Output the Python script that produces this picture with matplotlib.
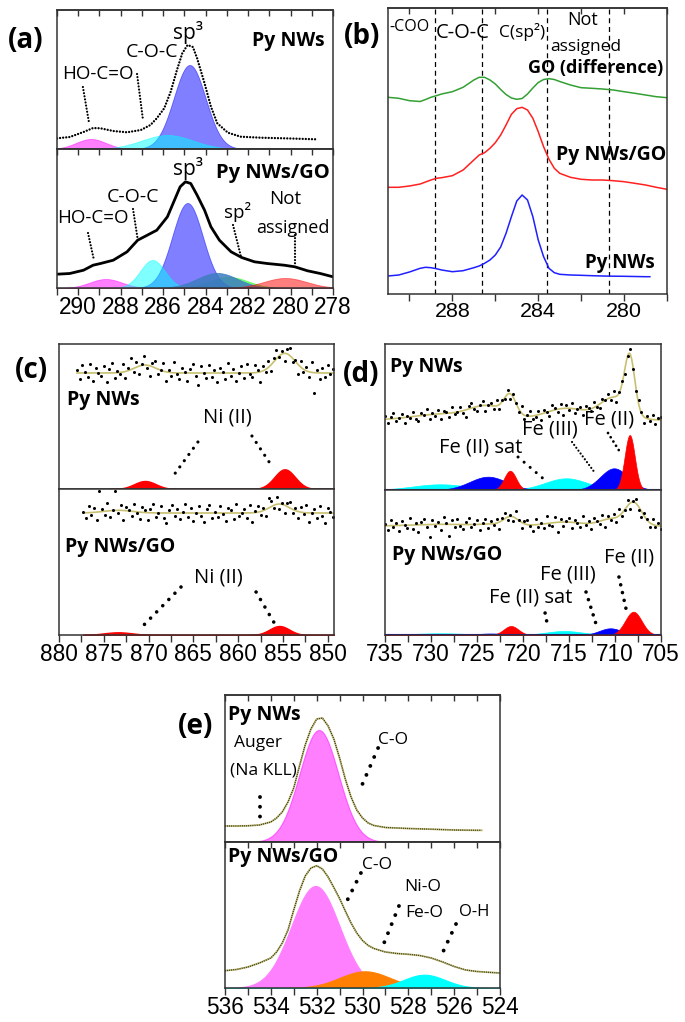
import numpy as np
import matplotlib.pyplot as plt
from matplotlib import font_manager

plt.rcParams['font.family'] = ['Open Sans', 'DejaVu Sans']
plt.rcParams['axes.linewidth'] = 1.1
plt.rcParams['axes.edgecolor'] = '#333333'

W, H = 685, 1022

# narrow font for the tick numbers, if present
TICK_FONT, TICK_SCALE = 'Liberation Sans', 0.86
for name in ['Liberation Sans Narrow', 'Arial Narrow']:
    try:
        font_manager.findfont(name, fallback_to_default=False)
        TICK_FONT, TICK_SCALE = name, 1.0
        break
    except ValueError:
        pass

# ---------------- (a) C 1s fitted spectra ----------------
a_top_E = [291.0, 290.4, 289.75, 289.3, 288.95, 288.35, 287.7, 287.05, 286.6, 286.3,
           285.95, 285.65, 285.35, 285.1, 284.85, 284.6, 284.4, 284.05, 283.75, 283.45,
           282.95, 282.35, 281.4, 280.3, 278.8]
a_top_I = [10.7, 12, 17, 21, 20.7, 18, 16.7, 19, 24, 30.7,
           40.7, 57, 79, 95.7, 104, 102, 90.7, 65.7, 42.3, 25.7,
           16.3, 12.3, 11.3, 10.7, 9.7]
# components: HO-C=O, sp3, C-O-C
a_top_c = [289.4, 284.75, 285.8]
a_top_h = [10, 84, 14]
a_top_w = [0.7, 0.75, 1.2]

a_bot_E = [291.0, 290.4, 289.75, 289.3, 288.95, 288.35, 287.7, 287.2, 286.75, 286.3,
           285.8, 285.5, 285.2, 284.95, 284.7, 284.4, 284.05, 283.75, 283.35, 282.8,
           282.3, 281.7, 281.1, 280.3, 279.8, 279.2, 278.6, 278.0]
a_bot_I = [13.8, 14.5, 17.8, 22.8, 24.5, 27.8, 36.2, 47.8, 52.8, 57.8,
           71.2, 86.2, 101.2, 106.2, 104.5, 92.8, 77.8, 61.2, 47.8, 36.2,
           30.5, 26.2, 24.5, 22.8, 21.2, 17.2, 14.5, 11.2]
# components: HO-C=O, sp2 (green), sp3, C-O-C, sp2 (dark), not assigned
a_bot_c = [288.7, 282.9, 284.85, 286.5, 283.45, 280.25]
a_bot_h = [9, 11, 85, 28, 15, 10]
a_bot_w = [0.75, 0.9, 0.72, 0.58, 0.95, 1.0]

# ---------------- (b) smoothed C 1s curves ----------------
b_E = [291, 290.5, 290, 289.5, 289.25, 289, 288.75, 288.5, 288, 287.5,
       287, 286.75, 286.5, 286.25, 286, 285.75, 285.5, 285.25, 285, 284.75,
       284.5, 284.25, 284, 283.75, 283.5, 283.25, 283, 282.5, 282, 281.5,
       281, 280.5, 280, 279.5, 279, 278.5, 278]
b_go = [196.7, 195.7, 193.3, 192.5, 194.5, 196.7, 198.3, 200, 202.3, 206.7,
        214, 216.7, 216.7, 214, 210, 204.5, 199.5, 196, 194.7, 195.5,
        200, 206, 211.5, 214.5, 215.3, 214.5, 212.5, 209, 206.3, 205.7,
        205, 204, 202.3, 200.7, 199, 197.3, 196.3]
b_nwgo = [106.7, 106.7, 108, 110, 112, 114, 115.7, 116.3, 118.3, 124,
          134, 139, 141.3, 145.7, 151.3, 159, 169, 179.7, 185.3, 186.7,
          184, 175.7, 162.3, 147.3, 134.7, 125.7, 120.7, 116.7, 114.7, 114,
          114, 113.3, 112.3, 110.7, 109, 106.7, 104.7]
b_nw_E = [291, 290.5, 290, 289.5, 289.25, 289, 288.75, 288.5, 288, 287.5,
          287, 286.75, 286.5, 286.25, 286, 285.75, 285.5, 285.25, 285, 284.75,
          284.5, 284.25, 284, 283.75, 283.5, 283.25, 283, 282.5, 282, 281.5,
          281, 280.5, 280, 279.5, 279, 278.8]
b_nw = [18, 19, 22, 25.7, 26.7, 26.3, 25.3, 24, 22.3, 23.3,
        26.3, 28, 30.7, 34, 39, 47, 60.7, 77.3, 93, 99,
        94, 77.3, 54, 37.3, 25.7, 21.3, 19.7, 19, 18.7, 18.3,
        18, 17.8, 17.7, 17.5, 17.3, 17.3]
b_marks = [288.8, 286.6, 283.6, 280.7]

# ---------------- (c) Ni 2p ----------------
c_top_base = 116
c_top_c = [870.4, 854.8]
c_top_h = [8, 19.7]
c_top_w = [1.2, 1.15]
c_top_res = [2, -5, 6, 1, -3, 7, -6, 4, 0, -2, 5, -7, 3, 8, -4, 1, -1, 6, -5, 2,
             9, -3, 4, -6, 1, 7, -2, -8, 3, 5, -4, 0, 6, -7, 2, -3, 8, -1, -5, 4,
             1, -6, 3, 7, -2, -9, 5, 0, -4, 6, -3, 2, -7, 4, 1, -5, 8, -2, 3, -6,
             0, 5, -4, 7, -1, -3, 6, 2, -8, 4, -2, 5, -5, 3, 7, -1, 2, -6, 4, 6,
             -3, 1, -7, 5, -2, 3, -4, 8, -16, 2, -5, 4, -3, 6, -1, 3]
c_bot_base = 122
c_bot_c = [873.4, 855.4]
c_bot_h = [2.7, 9]
c_bot_w = [1.6, 1.1]
c_bot_res = [1, -4, 5, -2, 3, -6, 16, 2, -3, 6, -5, 0, 15, -2, 4, -7, 3, 1, -4, 6,
             -1, -5, 4, 2, -6, 3, 7, -3, 0, 5, -4, -8, 2, 6, -2, 3, -5, 1, 7, -3,
             4, -6, 0, 5, -2, -7, 3, 6, -4, 1, -3, 5, -1, -6, 4, 2, -5, 7, -2, 0,
             3, -4, 6, -7, 1, 5, -3, 2, -5, 8, 4, -2, 6, -4, 1, -6, 3, 5, -3, 2,
             -5, 4, -1, 6, -7, 0, 3, -4, 5, -2, -8, 4, 1, -3]

# ---------------- (d) Fe 2p ----------------
d_top_base = 70
d_top_cyan = ([729, 715.3], [5.7, 11.7], [3.0, 2.3])
d_top_blue = ([723.8, 710.1], [13.3, 21.7], [2.0, 1.5])
d_top_red = ([721.4, 708.4], [19.3, 55], [0.65, 0.55])
d_top_res = [2, -3, 1, 4, -2, 0, 3, -4, 1, -1, 3, -2, -4, 2, 0, 4, -3, 1, -1, 3,
             -4, 2, 1, -3, 4, -1, 0, 3, -2, -5, 2, 4, -1, -3, 1, 3, -4, 0, 2, -2,
             4, -3, 1, -1, 3, -4, 2, 0, -2, 5, -3, 1, 4, -2, -1, 3, -4, 2, 0, -3,
             4, 1, -2, 3, -5, 2, -1, 4, -3, 0, 2, -4, 3, 1, -2, 4, -1, -3, 2, 0,
             3, -2, 4, -4, 1, 2, -3, 0, 4, -1, -2, 3, 1, -4, 2, -1, 3, -3, 1, 2]
d_bot_base = 109
d_bot_cyan = ([729, 715.5], [1.7, 4], [3.0, 2.0])
d_bot_blue = ([723.5, 710.5], [1.5, 6.7], [1.5, 1.2])
d_bot_red = ([721.3, 708.0], [9, 23.3], [0.8, 0.9])
d_bot_res = [1, -3, 4, -1, 2, -4, 3, 0, -2, 5, -3, 1, -5, 2, 4, -2, -9, 3, -1, 2,
             -4, 5, 1, -8, 3, -2, 4, -1, -3, 2, 5, -2, 0, 3, -4, 1, 4, -3, 2, -1,
             3, -5, 2, 4, -2, 1, -3, 5, 0, -4, 2, 3, -1, -4, 4, -2, 1, -3, 5, -1,
             -2, 4, -7, 2, -3, 1, 3, -4, 2, 0, -3, 5, -1, 2, -4, 3, 1, -2, 4, -5,
             2, -1, 3, -3, 5, -2, 0, 4, -4, 1, 3, -2, -4, 2, 1, -3, 4, -1, 2, -2]

# ---------------- (e) O 1s ----------------
e_top_E = [536, 535.5, 535, 534.5, 534, 533.75, 533.5, 533.25, 533, 532.75,
           532.5, 532.25, 532, 531.75, 531.5, 531.25, 531, 530.75, 530.5, 530.25,
           530, 529.75, 529.5, 529, 528.5, 528, 527, 526, 525, 524.8]
e_top_I = [16, 16, 16.2, 17, 20, 24, 30, 40, 54, 76,
           97, 113, 123, 124, 116, 103, 84, 63, 45, 32,
           24, 19, 16.5, 14.5, 14, 13.5, 12.8, 12, 11.7, 11.7]
e_top_c, e_top_h, e_top_w = [531.9], [112], [0.85]
e_bot_E = [536, 535.5, 535, 534.5, 534, 533.75, 533.5, 533.25, 533, 532.75,
           532.5, 532.25, 532, 531.75, 531.5, 531.25, 531, 530.75, 530.5, 530.25,
           530, 529.75, 529.5, 529, 528.5, 528, 527.5, 527, 526.5, 526,
           525.5, 525, 524.5, 524]
e_bot_I = [17.3, 18.5, 21, 25, 30, 36, 45, 58, 78, 97,
           112, 120, 122.3, 119, 111, 100.5, 89.5, 77, 65, 55,
           47.5, 42.5, 39.5, 36, 34.5, 33.7, 32.5, 30, 26, 21.5,
           18, 16.5, 15.7, 15]
# components: C-O, Ni-O/Fe-O, O-H
e_bot_c = [532.05, 529.9, 527.3]
e_bot_h = [102, 16.7, 13.3]
e_bot_w = [1.05, 1.1, 0.9]


def gauss(E, c, h, w):
    return h * np.exp(-(E - c) ** 2 / (2.0 * w ** 2))


fig = plt.figure(figsize=(W / 100, H / 100), dpi=100)


def panel(x0, y0, x1, y1, xlim):
    # axes placed by pixel box of the reference picture
    ax = fig.add_axes([x0 / W, 1 - y1 / H, (x1 - x0) / W, (y1 - y0) / H])
    ax.set_xlim(*xlim)
    ax.set_ylim(0, y1 - y0)
    ax.set_yticks([])
    ax.tick_params(axis='x', bottom=False, labelbottom=False)
    return ax


def bottom_ticks(ax, major, minor, size=19):
    ax.set_xticks(major)
    ax.set_xticks(minor, minor=True)
    ax.tick_params(axis='x', which='both', bottom=True, labelbottom=True,
                   direction='out', length=5, width=1, pad=1,
                   labelsize=size * TICK_SCALE, colors='#333333',
                   labelcolor='k', labelfontfamily=TICK_FONT)


def top_ticks(ax, ticks):
    sec = ax.secondary_xaxis('top')
    sec.set_xticks(ticks)
    sec.tick_params(axis='x', direction='in', length=4, width=1,
                    labeltop=False, colors='#333333')
    return sec


def pointer(ax, xs, ys, lw=1.6, gap=1.4):
    ax.plot(xs, ys, color='k', lw=lw, linestyle=(0, (0.01, gap)),
            dash_capstyle='round')


def label(ax, x, y, s, size=13, bold=False, ha='center'):
    ax.text(x, y, s, fontsize=size, ha=ha, va='center',
            fontweight='bold' if bold else 'normal')


# ================= (a) =================
ax = panel(57, 10, 333, 149, (291, 278))
Eg = np.linspace(291, 278, 600)
for c, h, w, col in zip(a_top_c, a_top_h, a_top_w, ['#ff00ff', '#0000ff', '#00ffff']):
    ax.fill_between(Eg, 0, gauss(Eg, c, h, w), color=col, alpha=0.5, lw=0.6)
ax.plot(a_top_E, a_top_I, color='k', lw=1.7, linestyle=(0, (0.01, 1.3)),
        dash_capstyle='round')
top_ticks(ax, np.arange(291, 277, -1))
label(ax, 284.85, 116, 'sp³', 15)
label(ax, 280.12, 108, 'Py NWs', 14, True)
label(ax, 286.53, 97, 'C-O-C', 14)
label(ax, 289.07, 75, 'HO-C=O', 13.5)
pointer(ax, [289.78, 289.49], [62, 26])
pointer(ax, [287.23, 286.95], [75, 29])

ax = panel(57, 149, 333, 288, (291, 278))
cols = ['#ff00ff', '#00ff00', '#0000ff', '#00ffff', '#3d7dbf', '#ff0000']
alphas = [0.5, 0.5, 0.5, 0.5, 0.85, 0.5]
for c, h, w, col, al in zip(a_bot_c, a_bot_h, a_bot_w, cols, alphas):
    ax.fill_between(Eg, 0, gauss(Eg, c, h, w), color=col, alpha=al, lw=0.6)
ax.plot(a_bot_E, a_bot_I, color='k', lw=2.0)
top_ticks(ax, np.arange(291, 277, -1))
bottom_ticks(ax, np.arange(290, 277, -2), np.arange(291, 277, -1))
label(ax, 284.83, 120, 'sp³', 15)
label(ax, 280.83, 115, 'Py NWs/GO', 14.5, True)
label(ax, 287.42, 91, 'C-O-C', 14)
label(ax, 289.3, 70, 'HO-C=O', 13.5)
label(ax, 282.52, 76, 'sp²', 13.5)
label(ax, 280.26, 89, 'Not', 13.5)
label(ax, 279.88, 60, 'assigned', 13)
pointer(ax, [289.54, 289.26], [55, 28])
pointer(ax, [287.42, 287.18], [79, 46])
pointer(ax, [282.71, 282.33], [63, 31])
pointer(ax, [279.79, 279.79], [53, 23])

# ================= (b) =================
ax = panel(388, 8, 667, 294, (291, 278))
for e in b_marks:
    ax.axvline(e, color='k', lw=0.9, linestyle=(0, (4, 3)))
ax.plot(b_E, b_go, color='#33a033', lw=1.1)
ax.plot(b_E, b_nwgo, color='#ff2020', lw=1.1)
ax.plot(b_nw_E, b_nw, color='#2020ff', lw=1.1)
bottom_ticks(ax, [288, 284, 280], [290, 286, 282, 278], size=18)
top_ticks(ax, [290, 288, 286, 284, 282, 280, 278])
label(ax, 290.95, 267, '-COO', 11.5, ha='left')
label(ax, 287.5, 261, 'C-O-C', 14.5)
label(ax, 284.76, 262, 'C(sp²)', 12.5)
label(ax, 281.91, 274, 'Not', 13)
label(ax, 281.77, 247, 'assigned', 12.5)
label(ax, 281.31, 226, 'GO (difference)', 13, True)
label(ax, 280.61, 139, 'Py NWs/GO', 14, True)
label(ax, 280.19, 31, 'Py NWs', 13.5, True)

# ================= (c) =================
olive = '#c8c070'
for (y0, y1, base, cs, hs, ws, res, e0) in [
        (344, 489, c_top_base, c_top_c, c_top_h, c_top_w, c_top_res, 878.0),
        (489, 635, c_bot_base, c_bot_c, c_bot_h, c_bot_w, c_bot_res, 877.3)]:
    ax = panel(59, y0, 334, y1, (880, 849.3))
    Eg = np.linspace(e0, 849.3, 600)
    fill_start = 874.3 if y0 == 344 else e0
    Ef = np.linspace(fill_start, 849.3, 600)
    for c, h, w in zip(cs, hs, ws):
        ax.fill_between(Ef, 0, gauss(Ef, c, h, w), color='#ff0000', lw=1.0)
    fit = base + sum(gauss(Eg, c, h, w) for c, h, w in zip(cs, hs, ws))
    ax.plot(Eg, fit, color=olive, lw=1.2)
    Ed = np.linspace(e0, 849.4, len(res))
    fit_d = base + sum(gauss(Ed, c, h, w) for c, h, w in zip(cs, hs, ws))
    ax.plot(Ed, fit_d + 1.3 * np.array(res), 'o', ms=2.2, color='k', mew=0)
    if y0 == 344:
        label(ax, 879.14, 89, 'Py NWs', 14, True, ha='left')
        label(ax, 861.25, 71, 'Ni (II)', 14.5)
        pointer(ax, [864.49, 867.5], [47, 10], lw=2.3, gap=2.4)
        pointer(ax, [858.46, 856.1], [53, 21], lw=2.3, gap=2.4)
    else:
        bottom_ticks(ax, np.arange(880, 849, -5), np.arange(877.5, 849, -5))
        label(ax, 879.33, 88, 'Py NWs/GO', 14, True, ha='left')
        label(ax, 862.25, 58, 'Ni (II)', 14.5)
        pointer(ax, [866.38, 870.96], [48, 6], lw=2.6, gap=2.4)
        pointer(ax, [858.0, 855.9], [43, 11], lw=2.6, gap=2.4)

# ================= (d) =================
for (y0, y1, base, cyan, blue, red, res) in [
        (344, 490, d_top_base, d_top_cyan, d_top_blue, d_top_red, d_top_res),
        (490, 635, d_bot_base, d_bot_cyan, d_bot_blue, d_bot_red, d_bot_res)]:
    ax = panel(385, y0, 661, y1, (735, 705))
    Eg = np.linspace(735, 705, 800)
    ax.axhline(0.4, color='#0000ff', lw=1.5)
    for comp, col in [(cyan, '#00ffff'), (blue, '#0000ff'), (red, '#ff0000')]:
        for c, h, w in zip(*comp):
            ax.fill_between(Eg, 0, gauss(Eg, c, h, w), color=col, lw=0.5)
    allc = [p for comp in (cyan, blue, red) for p in zip(*comp)]
    fit = base + sum(gauss(Eg, c, h, w) for c, h, w in allc)
    ax.plot(Eg, fit, color=olive, lw=1.2)
    Ed = np.linspace(735, 705, len(res))
    fit_d = base + sum(gauss(Ed, c, h, w) for c, h, w in allc)
    ax.plot(Ed, fit_d + 1.4 * np.array(res), 'o', ms=2.2, color='k', mew=0)
    if y0 == 344:
        label(ax, 734.46, 123, 'Py NWs', 14, True, ha='left')
        label(ax, 724.57, 43, 'Fe (II) sat', 14.5)
        label(ax, 717.07, 60, 'Fe (III)', 14.5)
        label(ax, 710.65, 71, 'Fe (II)', 14.5)
        pointer(ax, [720.54, 717.5], [33, 9], lw=2.2, gap=2.6)
        pointer(ax, [714.67, 712.17], [48, 17], lw=1.6, gap=1.6)
        pointer(ax, [710.76, 709.46], [57, 38], lw=2.0, gap=1.8)
    else:
        bottom_ticks(ax, np.arange(735, 704, -5), np.arange(732.5, 704, -5))
        label(ax, 734.27, 80, 'Py NWs/GO', 14, True, ha='left')
        label(ax, 708.48, 78, 'Fe (II)', 14.5)
        label(ax, 715.11, 61, 'Fe (III)', 14.5)
        label(ax, 719.13, 37, 'Fe (II) sat', 14.5)
        pointer(ax, [717.6, 717.28], [22, 7], lw=2.6, gap=2.2)
        pointer(ax, [713.15, 711.96], [43, 8], lw=2.6, gap=2.2)
        pointer(ax, [709.57, 708.7], [58, 22], lw=2.6, gap=2.2)

# ================= (e) =================
ax = panel(225, 695, 500, 842, (536, 524))
Eg = np.linspace(536, 524.8, 600)
ax.fill_between(Eg, 0, gauss(Eg, e_top_c[0], e_top_h[0], e_top_w[0]),
                color='#ff00ff', alpha=0.5, lw=0.8)
ax.plot(e_top_E, e_top_I, color='#b8b46a', lw=1.3)
ax.plot(e_top_E, e_top_I, color='k', lw=0.9, linestyle=(0, (0.5, 1.2)))
top_ticks(ax, np.arange(536, 523, -1))
label(ax, 535.85, 127, 'Py NWs', 14, True, ha='left')
label(ax, 534.56, 99, 'Auger', 12.5)
label(ax, 534.34, 72, '(Na KLL)', 12.5)
label(ax, 528.67, 102, 'C-O', 12.5)
pointer(ax, [534.47, 534.47], [45, 25], lw=2.8, gap=2.5)
pointer(ax, [529.32, 530.02], [94, 57], lw=2.8, gap=2.5)

ax = panel(225, 842, 500, 988, (536, 524))
Eg = np.linspace(536, 524, 600)
for c, h, w, col in zip(e_bot_c, e_bot_h, e_bot_w, ['#ff80ff', '#ff8000', '#00ffff']):
    ax.fill_between(Eg, 0, gauss(Eg, c, h, w), color=col, lw=0.8)
ax.plot(e_bot_E, e_bot_I, color='#b8b46a', lw=1.3)
ax.plot(e_bot_E, e_bot_I, color='k', lw=0.9, linestyle=(0, (0.5, 1.2)))
top_ticks(ax, np.arange(536, 523, -1))
bottom_ticks(ax, np.arange(536, 523, -2), np.arange(535, 523, -2))
label(ax, 535.87, 131, 'Py NWs/GO', 14, True, ha='left')
label(ax, 529.37, 123, 'C-O', 12.5)
label(ax, 527.36, 101, 'Ni-O', 12.5)
label(ax, 527.32, 75, 'Fe-O', 12.5)
label(ax, 525.14, 76, 'O-H', 12)
pointer(ax, [530.07, 530.68], [115, 87], lw=2.8, gap=2.5)
pointer(ax, [528.41, 529.06], [82, 45], lw=2.8, gap=2.5)
pointer(ax, [525.92, 526.49], [64, 36], lw=2.8, gap=2.5)

# panel letters
for s, x, y in [('(a)', 26, 40), ('(b)', 362, 37), ('(c)', 31, 370),
                ('(d)', 361, 375), ('(e)', 196, 727)]:
    fig.text(x / W, 1 - y / H, s, fontsize=20, fontweight='bold',
             ha='center', va='center')

fig.savefig('out.png', dpi=100)
